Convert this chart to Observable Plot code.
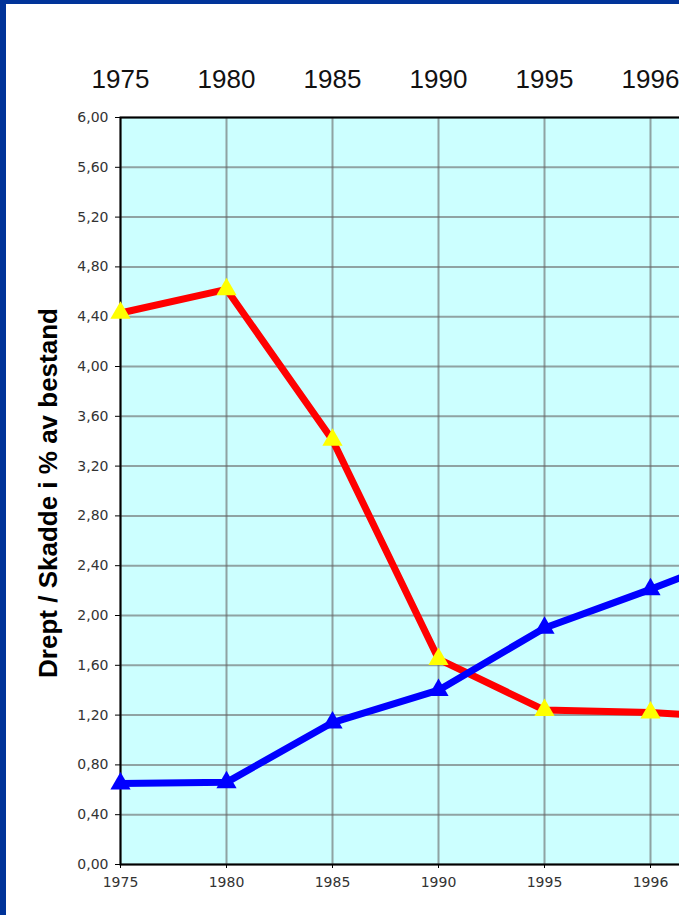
<!DOCTYPE html>
<html><head><meta charset="utf-8">
<script src="https://cdn.jsdelivr.net/npm/d3@7"></script>
<script src="https://cdn.jsdelivr.net/npm/@observablehq/plot@0.6"></script>
<style>
html,body{margin:0;padding:0;width:679px;height:915px;overflow:hidden;background:#003399;}
#wrap{position:absolute;left:6px;top:4px;width:800px;height:911px;background:#fff;overflow:hidden;}
</style></head><body><div id="wrap"></div>
<script>
const years = ["1975", "1980", "1985", "1990", "1995", "1996", "1997"];
const visibleYears = ["1975", "1980", "1985", "1990", "1995", "1996"];
const redSeries = [4.43, 4.62, 3.41, 1.65, 1.24, 1.22, 1.17];
const blueSeries = [0.65, 0.66, 1.14, 1.40, 1.90, 2.21, 2.54];
const yTickValues = [0, 0.4, 0.8, 1.2, 1.6, 2.0, 2.4, 2.8, 3.2, 3.6, 4.0, 4.4, 4.8, 5.2, 5.6, 6.0];
const yLabel = "Drept / Skadde i % av bestand";

const redData = years.map((year, i) => ({year, value: redSeries[i]}));
const blueData = years.map((year, i) => ({year, value: blueSeries[i]}));
const fmt = d => d3.format(".2f")(d).replace(".", ",");

const chart = Plot.plot({
  width: 800,
  height: 911,
  marginLeft: 114,
  marginTop: 113,
  marginBottom: 51,
  marginRight: 20,
  style: {background: "transparent", fontFamily: "Liberation Sans, Arial, sans-serif"},
  x: {type: "point", domain: years, range: [114, 750], padding: 0},
  y: {domain: [0, 6]},
  marks: [
    Plot.frame({fill: "#CCFFFF"}),
    Plot.gridY(yTickValues, {stroke: "#666", strokeOpacity: 0.6, strokeWidth: 2}),
    Plot.gridX(years, {stroke: "#666", strokeOpacity: 0.6, strokeWidth: 2}),
    Plot.frame({stroke: "#000", strokeWidth: 2}),
    Plot.axisY(yTickValues, {tickFormat: fmt, tickSize: 5, tickPadding: 7, fontSize: 14, fontFamily: "DejaVu Sans, Verdana, sans-serif", fill: "#333", label: null}),
    Plot.axisX(visibleYears, {anchor: "bottom", tickSize: 4, tickPadding: 9, fontSize: 14, fontFamily: "DejaVu Sans, Verdana, sans-serif", fill: "#333", label: null}),
    Plot.text(visibleYears, {x: d => d, frameAnchor: "top", dy: -37.5, fontSize: 26, fill: "#111", lineAnchor: "middle"}),
    Plot.text([yLabel], {frameAnchor: "left", dx: -72, dy: 2, rotate: -90, textAnchor: "middle", fontSize: 26, fontWeight: "bold", fill: "#000"}),
    Plot.line(redData, {x: "year", y: "value", stroke: "#FF0000", strokeWidth: 7, strokeLinejoin: "miter"}),
    Plot.dot(redData, {x: "year", y: "value", symbol: "triangle", r: 7.5, fill: "#FFFF00", stroke: "none"}),
    Plot.line(blueData, {x: "year", y: "value", stroke: "#0000FF", strokeWidth: 7, strokeLinejoin: "miter"}),
    Plot.dot(blueData, {x: "year", y: "value", symbol: "triangle", r: 7.5, fill: "#0000FF", stroke: "none"})
  ]
});
document.getElementById("wrap").appendChild(chart);
</script>
</body></html>
